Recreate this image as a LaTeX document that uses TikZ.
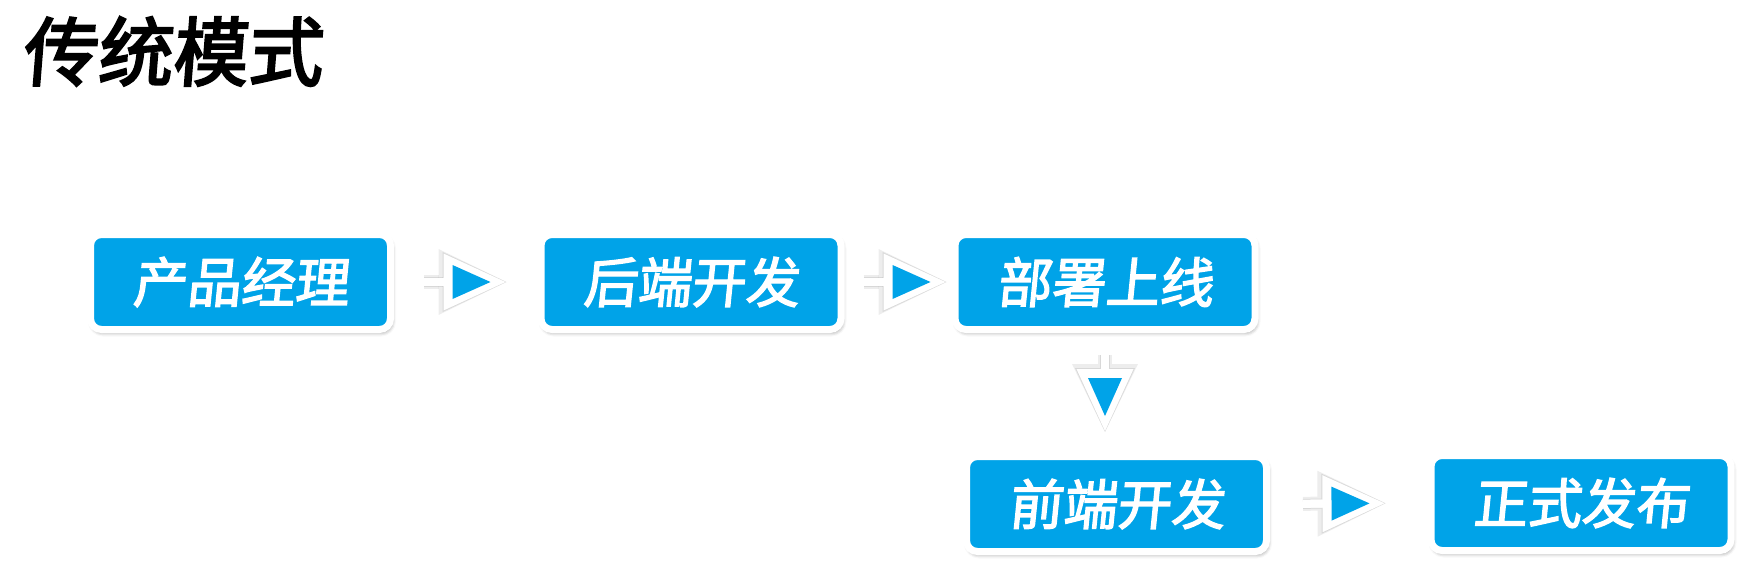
\documentclass[tikz,border=0pt]{standalone}
\usepackage{fontspec}
\newfontfamily\cjktitle[FakeSlant=0.08,FakeBold=3]{Noto Sans CJK SC}
\newfontfamily\cjkbox[FakeSlant=0.1,FakeBold=2.5]{Noto Sans CJK SC}
\usetikzlibrary{arrows.meta,shadows.blur}
\definecolor{boxblue}{RGB}{0,163,232}
\tikzset{
  stagebox/.style={rounded corners=11pt, fill=boxblue, draw=white, line width=7pt,
    minimum width=300pt, minimum height=95pt, inner sep=0pt,
    text=white, font=\cjkbox\fontsize{54}{60}\selectfont,
    blur shadow={shadow xshift=1.5pt, shadow yshift=-3pt, shadow blur radius=4pt, shadow opacity=45}},
  flowouter/.style={draw=white, line width=8pt,
    -{Triangle[length=62pt, width=57pt, line width=0pt]}},
  flowinner/.style={draw=white, line width=8pt,
    -{Triangle[length=38pt, width=34pt, line width=0pt, color=boxblue, fill=boxblue]}},
  flowshadowA/.style={draw=black, opacity=0.07, line width=14pt,
    -{Triangle[length=68pt, width=66pt, line width=0pt]}},
  flowshadowB/.style={draw=black, opacity=0.09, line width=10pt,
    -{Triangle[length=64pt, width=60pt, line width=0pt]}},
}
\begin{document}
\begin{tikzpicture}[x=1pt,y=-1pt]
\useasboundingbox (0,0) rectangle (1748,573);
\node[anchor=base west, inner sep=0pt, font=\cjktitle\fontsize{75}{80}\selectfont] (title) at (22,80) {传统模式};
\node[stagebox] (b1) at (240.5,282) {产品经理};
\node[stagebox] (b2) at (691,282) {后端开发};
\node[stagebox] (b3) at (1105,282) {部署上线};
\node[stagebox] (b4) at (1116.5,504) {前端开发};
\node[stagebox] (b5) at (1581,503) {正式发布};
% arrow shadows
\begin{scope}[shift={(1.5,2.5)}]
\foreach \s in {flowshadowA, flowshadowB}{
\draw[\s, shorten <=30pt, shorten >=31pt] (b1.east) -- (b2.west);
\draw[\s, shorten <=19pt, shorten >=5pt] (b2.east) -- (b3.west);
\draw[\s, shorten <=22pt, shorten >=21pt] (b3.south) -- (b3.south |- b4.north);
\draw[\s, shorten <=33pt, shorten >=42pt] (b4.east) -- (b5.west);
}
\end{scope}
% arrows: white outer triangle
\draw[flowouter, shorten <=30pt, shorten >=32pt] (b1.east) -- (b2.west);
\draw[flowouter, shorten <=19pt, shorten >=6pt] (b2.east) -- (b3.west);
\draw[flowouter, shorten <=22pt, shorten >=22pt] (b3.south) -- (b3.south |- b4.north);
\draw[flowouter, shorten <=33pt, shorten >=43pt] (b4.east) -- (b5.west);
% arrows: blue inner triangle
\draw[flowinner, shorten <=30pt, shorten >=47pt] (b1.east) -- (b2.west);
\draw[flowinner, shorten <=19pt, shorten >=21pt] (b2.east) -- (b3.west);
\draw[flowinner, shorten <=22pt, shorten >=37pt] (b3.south) -- (b3.south |- b4.north);
\draw[flowinner, shorten <=33pt, shorten >=58pt] (b4.east) -- (b5.west);
\end{tikzpicture}
\end{document}
